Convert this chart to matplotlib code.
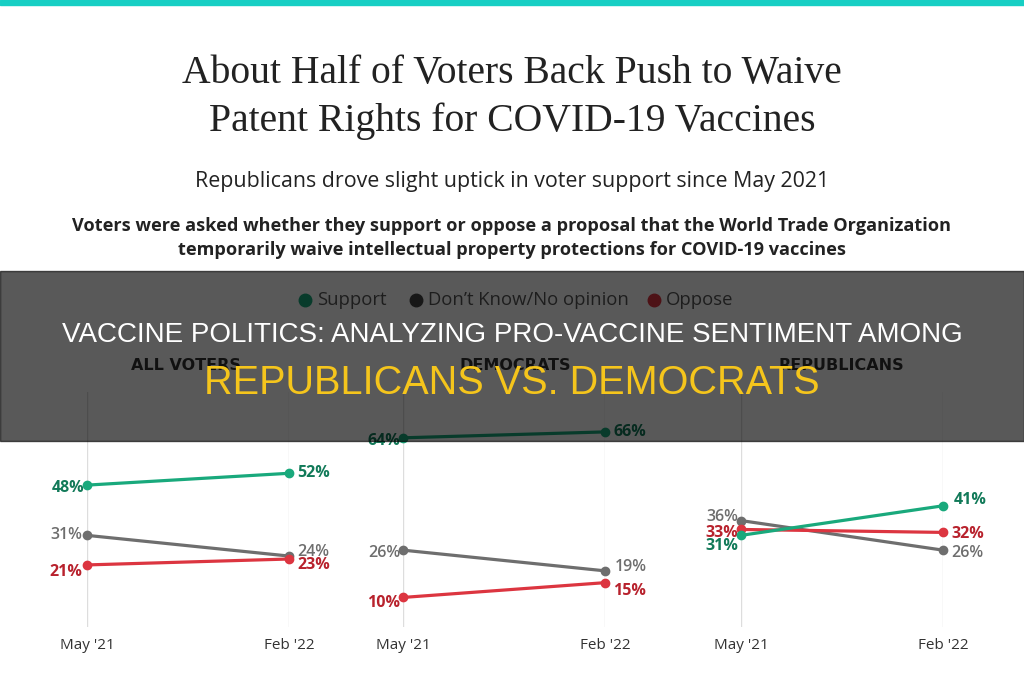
import matplotlib.pyplot as plt
from matplotlib.patches import Rectangle
from matplotlib.lines import Line2D

# data
periods = ["May '21", "Feb '22"]
groups = ["ALL VOTERS", "DEMOCRATS", "REPUBLICANS"]
support = [[48, 52], [64, 66], [31, 41]]
dont_know = [[31, 24], [26, 19], [36, 26]]
oppose = [[21, 23], [10, 15], [33, 32]]
series_names = ["Support", "Don\u2019t Know/No opinion", "Oppose"]

# styles
line_col = ["#19a97c", "#6e6e6e", "#dc3540"]
text_col = ["#127a59", "#6e6e6e", "#b8222d"]
weights = ["bold", "semibold", "bold"]
PX = 0.72  # points per pixel at dpi 100

# label nudges in pixels: (left dx, left dy, right dx, right dy), dy positive = down
nudges = [
    [(-3, 3, 8, 0), (-5, 0, 8, -4), (-5, 7, 8, 6)],
    [(-3, 3, 8, 0), (-3, 3, 10, -4), (-3, 6, 8, 8)],
    [(-3, 11, 11, -6), (-3, -4, 8, 3), (-3, 4, 8, 2)],
]

plt.rcParams['font.family'] = ['Open Sans', 'DejaVu Sans']
fig = plt.figure(figsize=(10.24, 6.8), dpi=100)

# teal strip at top
fig.patches.append(Rectangle((0, 1 - 5 / 680), 1, 5 / 680, transform=fig.transFigure,
                             color="#17cfc4", zorder=0))

fig.text(0.5, 1 - 73 / 680, "About Half of Voters Back Push to Waive", ha="center", va="center",
         family="Liberation Serif", fontsize=28.5, color="#222222")
fig.text(0.5, 1 - 121 / 680, "Patent Rights for COVID-19 Vaccines", ha="center", va="center",
         family="Liberation Serif", fontsize=28.5, color="#222222")
fig.text(0.5, 1 - 182 / 680, "Republicans drove slight uptick in voter support since May 2021",
         ha="center", va="center", fontsize=15.4, color="#222222")
fig.text(0.5, 1 - 226 / 680,
         "Voters were asked whether they support or oppose a proposal that the World Trade Organization",
         ha="center", va="center", fontsize=13.1, fontweight="bold", color="#222222")
fig.text(0.5, 1 - 250 / 680,
         "temporarily waive intellectual property protections for COVID-19 vaccines",
         ha="center", va="center", fontsize=13.1, fontweight="bold", color="#222222")

# legend
leg_x = [305, 416, 654]
for i, name in enumerate(series_names):
    fig.add_artist(Line2D([leg_x[i] / 1024], [1 - 300 / 680], marker="o", markersize=9,
                          color=line_col[i] if i != 1 else "#444444", transform=fig.transFigure))
    fig.text((leg_x[i] + 12) / 1024, 1 - 300 / 680, name, ha="left", va="center",
             fontsize=13.3, color="#555555")

# panels
lefts = [87, 403, 741]
data = [support, dont_know, oppose]
for g, grp in enumerate(groups):
    ax = fig.add_axes([lefts[g] / 1024, 1 - 627 / 680, 202 / 1024, 235 / 680])
    ax.set_xlim(0, 1)
    ax.set_ylim(0, 79.5)
    for s in ax.spines.values():
        s.set_visible(False)
    ax.set_yticks([])
    ax.set_xticks([0, 1])
    ax.set_xticklabels(periods, fontsize=11, color="#333333")
    ax.tick_params(axis="x", length=0, pad=8)
    for x in (0, 1):
        ax.axvline(x, color="#dddddd", lw=1, zorder=0)
    for s_i, series in enumerate(data):
        vals = series[g]
        ax.plot([0, 1], vals, color=line_col[s_i], lw=2.3, marker="o", markersize=6,
                clip_on=False, zorder=3 + (s_i == 0))
        ldx, ldy, rdx, rdy = nudges[g][s_i]
        ax.annotate(f"{vals[0]}%", (0, vals[0]), xytext=(ldx * PX, -ldy * PX),
                    textcoords="offset points", ha="right", va="center", fontsize=11.5,
                    color=text_col[s_i], fontweight=weights[s_i], annotation_clip=False)
        ax.annotate(f"{vals[1]}%", (1, vals[1]), xytext=(rdx * PX, -rdy * PX),
                    textcoords="offset points", ha="left", va="center", fontsize=11.5,
                    color=text_col[s_i], fontweight=weights[s_i], annotation_clip=False)

title_x = [186, 515, 841]
for g, grp in enumerate(groups):
    fig.text(title_x[g] / 1024, 1 - 366 / 680, grp, ha="center", va="center", fontsize=11.5,
             fontweight="heavy", color="#333333", family="DejaVu Sans")

# dark banner overlay
fig.patches.append(Rectangle((0, 1 - 441 / 680), 1, 170 / 680, transform=fig.transFigure,
                             color="black", alpha=0.65, zorder=10))
fig.text(0.5, 1 - 335 / 680, "VACCINE POLITICS: ANALYZING PRO-VACCINE SENTIMENT AMONG",
         ha="center", va="center", fontsize=20, color="white", zorder=11,
         family="Liberation Sans")
fig.text(0.5, 1 - 383 / 680, "REPUBLICANS VS. DEMOCRATS", ha="center", va="center",
         fontsize=28.5, color="#f5c51c", zorder=11, family="Liberation Sans")

fig.savefig("out.png", dpi=100)
